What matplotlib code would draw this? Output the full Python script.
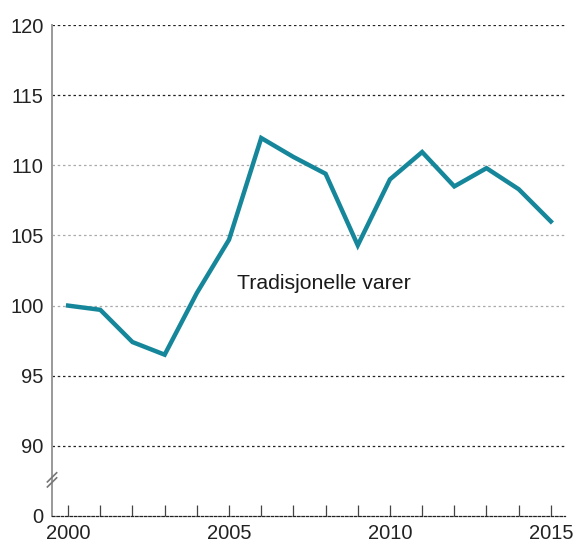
import matplotlib.pyplot as plt

years = list(range(2000, 2016))
values = [100.0, 99.7, 97.4, 96.5, 100.9, 104.7, 111.95, 110.6, 109.4, 104.3,
          109.0, 110.95, 108.5, 109.8, 108.3, 106.0]
ytick_pos = [85, 90, 95, 100, 105, 110, 115, 120]
ytick_labels = ["0", "90", "95", "100", "105", "110", "115", "120"]
xtick_labels = {2000: "2000", 2005: "2005", 2010: "2010", 2015: "2015"}
series_name = "Tradisjonelle varer"

plt.rcParams['font.family'] = ['Liberation Sans', 'DejaVu Sans']

fig = plt.figure(figsize=(5.78, 5.46), dpi=100)
ax = fig.add_axes([0.09, 0.055, 0.887, 0.899])

# grid lines (dotted), darker ones at 90/95/115/120 as in the original
for v in [90, 95, 100, 105, 110, 115, 120]:
    col = "#222222" if v in (90, 95, 115, 120) else "#aaaaaa"
    ax.axhline(v, color=col, lw=0.9, ls=(0, (2, 2.2)), zorder=1)

ax.plot(years, values, color="#16879a", lw=3.2, solid_joinstyle="miter", zorder=3)
ax.text(2005.25, 101.6, series_name, fontsize=15.3, color="#1a1a1a", va="center")

ax.set_xlim(1999.5, 2015.43)
ax.set_ylim(85, 120)
ax.set_yticks(ytick_pos)
ax.set_yticklabels(ytick_labels)
ax.set_xticks(years)
ax.set_xticklabels([xtick_labels.get(y, "") for y in years])

for s in ["top", "right"]:
    ax.spines[s].set_visible(False)
ax.spines["left"].set_color("#999999")
ax.spines["left"].set_linewidth(1.4)
ax.spines["bottom"].set_color("#222222")
ax.spines["bottom"].set_linewidth(0.9)
ax.spines["bottom"].set_linestyle((0, (2, 1.5)))

ax.tick_params(axis="y", length=0, pad=6, labelsize=14.5, labelcolor="#222222")
ax.tick_params(axis="x", direction="in", length=8, width=0.9, color="#444444",
               pad=6, labelsize=14.5, labelcolor="#222222")

# axis break mark
bk = dict(transform=ax.get_yaxis_transform(), color="#777777", lw=1.2, clip_on=False, zorder=5)
for dy in (-0.18, 0.18):
    ax.plot([-0.009, 0.009], [87.25 + dy, 87.9 + dy], **bk)

fig.savefig("out.png", dpi=100)
